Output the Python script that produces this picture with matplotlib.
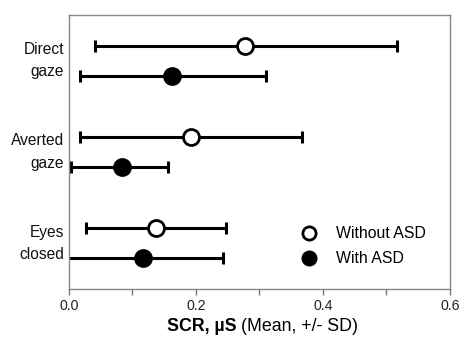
import matplotlib.pyplot as plt
from matplotlib.lines import Line2D

plt.rcParams['font.family'] = ['Liberation Sans', 'DejaVu Sans']

# Data (SCR, uS)
conditions = ['Direct\ngaze', 'Averted\ngaze', 'Eyes\nclosed']
without_mean = [0.278, 0.192, 0.137]
without_low = [0.041, 0.017, 0.027]
without_high = [0.516, 0.367, 0.247]
with_mean = [0.163, 0.083, 0.116]
with_low = [0.017, 0.004, -0.010]
with_high = [0.311, 0.156, 0.242]

fig = plt.figure(figsize=(4.62, 3.41), dpi=100)
ax = fig.add_axes([0.149, 0.1525, 0.825, 0.8035])

pos = list(range(len(conditions)))
off = 0.165

def draw(means, lows, highs, shift, face):
    ys = [p + shift for p in pos]
    err = [[m - l for m, l in zip(means, lows)], [h - m for m, h in zip(means, highs)]]
    ax.errorbar(means, ys, xerr=err, fmt='none', ecolor='black', elinewidth=2.2,
                capsize=4.5, capthick=2.2, zorder=2)
    ax.plot(means, ys, 'o', ms=11.5, mfc=face, mec='black', mew=2.0, zorder=3)

draw(without_mean, without_low, without_high, -off, 'white')
draw(with_mean, with_low, with_high, off, 'black')

ax.set_xlim(0, 0.6)
ax.set_ylim(2.5, -0.5)
ax.set_xticks([0.0, 0.2, 0.4, 0.6])
ax.set_xticks([0.1, 0.3, 0.5], minor=True)
ax.set_xticklabels(['0.0', '0.2', '0.4', '0.6'])
ax.tick_params(axis='x', which='both', direction='out', length=4, width=1,
               color='#777777', labelsize=10.2, labelcolor='#222222', pad=3.5)
ax.set_yticks([])
for p, name in zip(pos, conditions):
    ax.text(-0.012, p, name, ha='right', va='center', fontsize=11.2,
            linespacing=1.6, transform=ax.get_yaxis_transform(), color='#111111')

for s in ax.spines.values():
    s.set_color('#888888')
    s.set_linewidth(1)

# x label: bold part + normal part
fig.text(0.512, 0.03, 'SCR, \u00b5S', ha='right', va='baseline', fontsize=12.8,
         fontweight='bold')
fig.text(0.521, 0.03, '(Mean, +/- SD)', ha='left', va='baseline', fontsize=12.8)

handles = [Line2D([], [], ls='none', marker='o', ms=9.5, mfc='white', mec='black', mew=2.0),
           Line2D([], [], ls='none', marker='o', ms=9.5, mfc='black', mec='black', mew=2.0)]
ax.legend(handles, ['Without ASD', 'With ASD'], loc='center left',
          bbox_to_anchor=(0.567, 0.156), frameon=False, fontsize=11.4,
          handletextpad=1.15, labelspacing=0.62, handlelength=1.2)

fig.savefig('out.png', dpi=100)
